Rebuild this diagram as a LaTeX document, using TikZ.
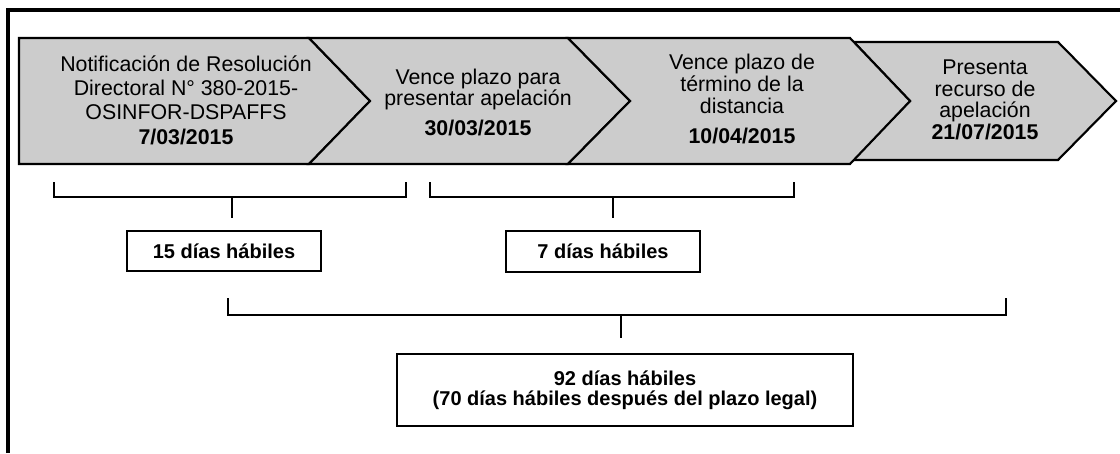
\documentclass[tikz,border=0pt]{standalone}
\usepackage{fontspec}
\setmainfont{Liberation Sans}
\definecolor{ArrowClr}{gray}{0.80}

\tikzset{
  stage/.style={draw=black,line width=1.6pt,fill=ArrowClr,line join=miter},
  stagetext/.style={align=center,inner sep=0pt,font=\fontsize{16}{16.5}\selectfont},
  span/.style={line width=0.8pt},
  daysbox/.style={draw=black,line width=1.4pt,fill=white,align=center,inner sep=0pt,
    font=\bfseries\fontsize{15}{15}\selectfont},
}

\begin{document}
\begin{tikzpicture}[x=0.75pt,y=-0.75pt]
\useasboundingbox (0,0) rectangle (1120,453);

% frame (open on the right and bottom)
\draw[line width=2.3pt] (8,453) -- (8,10) -- (1120,10);

% chevron corners
\coordinate (A1) at (19,38);   \coordinate (B1) at (19,164);
\coordinate (A2) at (309,38);  \coordinate (B2) at (309,164);  \coordinate (T1) at (370,101);
\coordinate (A3) at (568,38);  \coordinate (B3) at (568,164);  \coordinate (T2) at (630,101);
\coordinate (A4) at (850,38);  \coordinate (B4) at (850,164);  \coordinate (T3) at (910,101);
\coordinate (C4) at (853.8,42);  \coordinate (D4) at (852.9,160);
\coordinate (A5) at (1058,42); \coordinate (B5) at (1058,160); \coordinate (T4) at (1116,101);

\draw[stage] (C4) -- (A5) -- (T4) -- (B5) -- (D4) -- (T3) -- cycle;
\draw[stage] (A1) -- (A2) -- (T1) -- (B2) -- (B1) -- cycle;
\draw[stage] (A2) -- (A3) -- (T2) -- (B3) -- (B2) -- (T1) -- cycle;
\draw[stage] (A3) -- (A4) -- (T3) -- (B4) -- (B3) -- (T2) -- cycle;

\node[stagetext,font=\fontsize{16}{18.25}\selectfont] (notif) at (186,100)
  {Notificación de Resolución\\Directoral N° 380-2015-\\OSINFOR-DSPAFFS\\\textbf{7/03/2015}};
\node[stagetext,font=\fontsize{16}{15.75}\selectfont] (vence) at (478,102)
  {Vence plazo para\\presentar apelación\\[6.75pt]\textbf{30/03/2015}};
\node[stagetext] (dist) at (742,99)
  {Vence plazo de\\término de la\\distancia\\[6pt]\textbf{10/04/2015}};
\node[stagetext,font=\fontsize{16}{16.25}\selectfont] (recurso) at (985,100)
  {Presenta\\recurso de\\apelación\\\textbf{21/07/2015}};

% brackets
\coordinate (s1a) at (54,182);  \coordinate (s1b) at (406,182);
\coordinate (s2a) at (430,182); \coordinate (s2b) at (794,182);
\coordinate (s3a) at (228,298); \coordinate (s3b) at (1006,298);

\draw[span] (s1a) -- (54,197) -- (406,197) -- (s1b);
\draw[span] (s2a) -- (430,197) -- (794,197) -- (s2b);
\draw[span] (s3a) -- (228,315) -- (1006,315) -- (s3b);

\coordinate (k1) at (232,197); \coordinate (k1e) at (232,218);
\coordinate (k2) at (613,197); \coordinate (k2e) at (613,218);
\coordinate (k3) at (621,315); \coordinate (k3e) at (621,338);
\draw[span] (k1) -- (k1e);
\draw[span] (k2) -- (k2e);
\draw[span] (k3) -- (k3e);

% day counts
\node[daysbox,minimum width=145.5pt,minimum height=30pt] (quince) at (224,251) {15 días hábiles};
\node[daysbox,minimum width=146pt,minimum height=30.75pt] (siete) at (603,251.5) {7 días hábiles};
\node[daysbox,minimum width=342pt,minimum height=54pt] (total) at (625,390)
  {92 días hábiles\\(70 días hábiles después del plazo legal)};

\end{tikzpicture}
\end{document}
